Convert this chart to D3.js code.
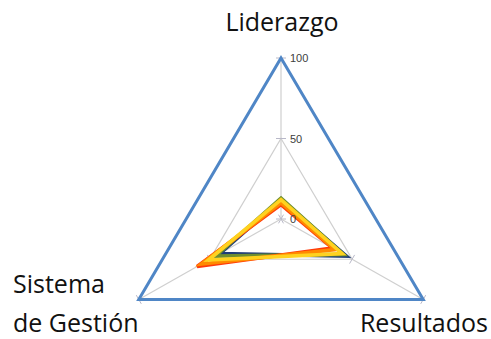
<!DOCTYPE html>
<html>
<head>
<meta charset="utf-8">
<script src="https://cdn.jsdelivr.net/npm/d3@7"></script>
<style>
  body { margin: 0; background: #fff; }
  svg { display: block; }
</style>
</head>
<body>
<svg id="chart" width="491" height="339"></svg>
<script>
// axes of the radar, clockwise from the top
const axes = ["Liderazgo", "Resultados", "Sistema de Gestión"];
const ticks = [0, 50, 100];

// series values, one per axis (same order as axes)
const maximo = [100, 100, 100];
const serie1 = [12, 46, 43];
const serie2 = [13, 44, 46];
const serie3 = [9, 36, 59];
const serie4 = [10, 38, 56];
const serie5 = [12, 43, 51];
const colors = ["#4f86c6", "#1f3c78", "#6f8f2f", "#ff3a0a", "#ff8a00", "#ffd21f"];

const svg = d3.select("#chart");
const cx = 281, cy = 219, R = 161;

const r = d3.scaleLinear().domain([0, 100]).range([0, R]);
const angle = d3.scalePoint().domain(axes).range([0, 2 * Math.PI * 2 / 3]);

function pt(axis, v) {
  const a = angle(axis) - Math.PI / 2;
  return [cx + r(v) * Math.cos(a) * 1.02, cy + r(v) * Math.sin(a)];
}

const g = svg.append("g");

// grid triangles
ticks.filter(t => t > 0).forEach(t => {
  g.append("path")
    .attr("d", d3.line()(axes.map(a => pt(a, t))) + "Z")
    .attr("fill", "none")
    .attr("stroke", "#cfcfcf")
    .attr("stroke-width", 1.2);
});

// spokes
axes.forEach(a => {
  const p0 = pt(a, 0), p1 = pt(a, 100);
  g.append("line")
    .attr("x1", p0[0]).attr("y1", p0[1])
    .attr("x2", p1[0]).attr("y2", p1[1])
    .attr("stroke", "#cfcfcf")
    .attr("stroke-width", 1.2);
  // small tick marks across each spoke
  const ang = angle(a) - Math.PI / 2;
  const nx = -Math.sin(ang), ny = Math.cos(ang);
  ticks.forEach(t => {
    const p = pt(a, t);
    g.append("line")
      .attr("x1", p[0] - nx * 5).attr("y1", p[1] - ny * 5)
      .attr("x2", p[0] + nx * 5).attr("y2", p[1] + ny * 5)
      .attr("stroke", "#b8b8c8")
      .attr("stroke-width", 1);
  });
});

// series
const series = [maximo, serie1, serie2, serie3, serie4, serie5];
g.selectAll(".serie")
  .data(series)
  .enter().append("path")
  .attr("class", "serie")
  .attr("d", d => d3.line()(axes.map((a, i) => pt(a, d[i]))) + "Z")
  .attr("fill", "none")
  .attr("stroke", (d, i) => colors[i])
  .attr("stroke-width", (d, i) => i === 0 ? 3 : 3.6)
  .attr("stroke-linejoin", "miter");

// tick labels along the first axis
ticks.forEach(t => {
  const p = pt(axes[0], t);
  svg.append("text")
    .attr("x", p[0] + 9)
    .attr("y", p[1] + 4)
    .attr("font-family", "Liberation Sans, Arial, sans-serif")
    .attr("font-size", 11)
    .attr("fill", "#404040")
    .text(t);
});

// axis labels
const labelFont = "'Open Sans', sans-serif";
svg.append("text")
  .attr("x", 282).attr("y", 31)
  .attr("text-anchor", "middle")
  .attr("font-family", labelFont)
  .attr("font-size", 25)
  .attr("fill", "#111")
  .text(axes[0]);

svg.append("text")
  .attr("x", 488).attr("y", 332)
  .attr("text-anchor", "end")
  .attr("font-family", labelFont)
  .attr("font-size", 25)
  .attr("fill", "#111")
  .text(axes[1]);

const sg = svg.append("text")
  .attr("font-family", labelFont)
  .attr("font-size", 25)
  .attr("fill", "#111");
sg.append("tspan").attr("x", 13).attr("y", 293).text("Sistema");
sg.append("tspan").attr("x", 13).attr("y", 332).text("de Gestión");
</script>
</body>
</html>
